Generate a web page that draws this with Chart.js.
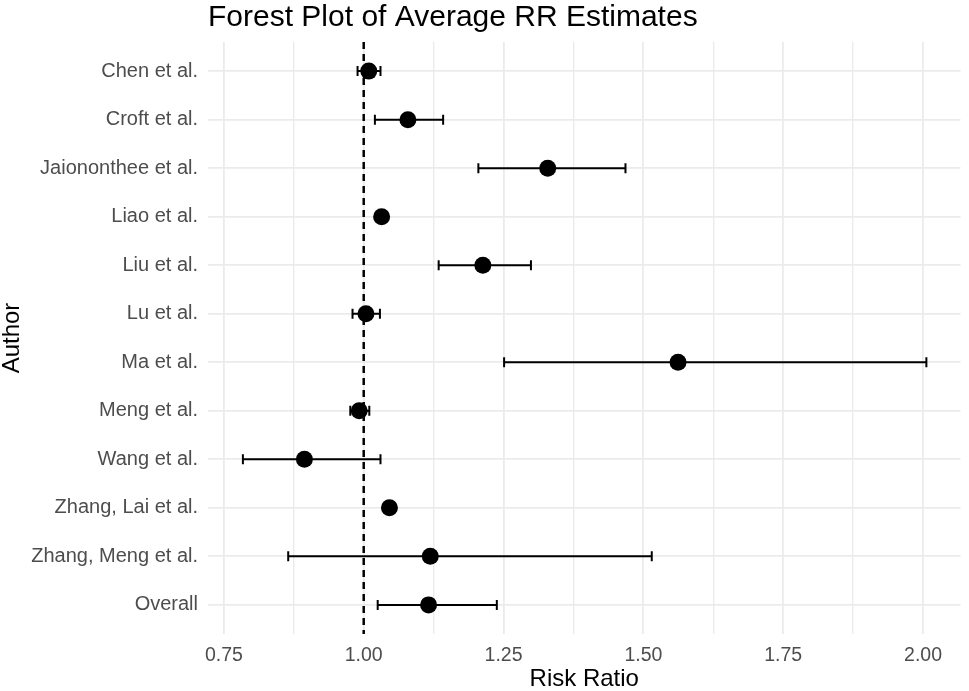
<!DOCTYPE html>
<html>
<head>
<meta charset="utf-8">
<script src="https://cdn.jsdelivr.net/npm/chart.js@4/dist/chart.umd.min.js"></script>
<style>
  html, body { margin: 0; padding: 0; background: #ffffff; }
  #wrap { width: 969px; height: 691px; position: relative; }
</style>
</head>
<body>
<div id="wrap"><canvas id="c"></canvas></div>
<script>
const authors = [
  "Chen et al.", "Croft et al.", "Jaiononthee et al.", "Liao et al.", "Liu et al.",
  "Lu et al.", "Ma et al.", "Meng et al.", "Wang et al.", "Zhang, Lai et al.",
  "Zhang, Meng et al.", "Overall"
];
const rr    = [1.009, 1.079, 1.329, 1.032, 1.213, 1.004, 1.562, 0.992, 0.894, 1.046, 1.119, 1.116];
const lower = [0.989, 1.020, 1.205, 1.022, 1.134, 0.980, 1.251, 0.976, 0.784, 1.036, 0.865, 1.025];
const upper = [1.030, 1.142, 1.468, 1.042, 1.299, 1.029, 2.006, 1.010, 1.030, 1.056, 1.515, 1.238];
const xMajorTicks = [0.75, 1.00, 1.25, 1.50, 1.75, 2.00];
const xMinorTicks = [0.875, 1.125, 1.375, 1.625, 1.875];
const refValue = 1.0;

const GRID = '#ebebeb';
const FONT = 'Liberation Sans, Arial, Helvetica, sans-serif';

const errorSets = authors.map((a, i) => ({
  type: 'line',
  data: [{x: lower[i], y: i}, {x: upper[i], y: i}],
  borderColor: '#000',
  borderWidth: 2,
  pointStyle: 'line',
  rotation: 90,
  pointRadius: 5,
  pointBorderWidth: 2,
  pointBorderColor: '#000',
  order: 2
}));

const datasets = [
  {
    type: 'scatter',
    data: authors.map((a, i) => ({x: rr[i], y: i})),
    backgroundColor: '#000',
    borderColor: '#000',
    pointRadius: 8.5,
    pointBorderWidth: 0,
    order: 1
  },
  ...errorSets,
  {
    type: 'line',
    data: [{x: refValue, y: -0.6}, {x: refValue, y: authors.length - 0.4}],
    borderColor: '#000',
    borderWidth: 2.5,
    borderDash: [7, 5],
    pointRadius: 0,
    order: 3
  }
];

new Chart(document.getElementById('c'), {
  type: 'scatter',
  data: { datasets },
  options: {
    responsive: true,
    maintainAspectRatio: false,
    animation: false,
    layout: { padding: { left: 0, right: 2, top: 0, bottom: 0 } },
    plugins: {
      legend: { display: false },
      tooltip: { enabled: false },
      title: {
        display: true,
        text: 'Forest Plot of Average RR Estimates',
        align: 'start',
        fullSize: false,
        color: '#000',
        font: { family: FONT, size: 30, weight: 'normal', lineHeight: 1.2 },
        padding: { top: 0, bottom: 6 }
      }
    },
    scales: {
      x: {
        type: 'linear',
        min: 0.7216,
        max: 2.067,
        border: { display: false },
        grid: {
          color: GRID,
          lineWidth: ctx => (ctx.tick && ctx.tick.major) ? 1.8 : 1.4,
          drawTicks: false
        },
        afterBuildTicks: s => {
          s.ticks = [
            ...xMajorTicks.map(v => ({value: v, major: true})),
            ...xMinorTicks.map(v => ({value: v, major: false}))
          ].sort((a, b) => a.value - b.value);
        },
        ticks: {
          color: '#4d4d4d',
          font: { family: FONT, size: 19.5 },
          padding: 10,
          maxRotation: 0,
          autoSkip: false,
          major: { enabled: false },
          callback: function(v) {
            return xMajorTicks.includes(v) ? v.toFixed(2) : '';
          }
        },
        title: {
          display: true,
          text: 'Risk Ratio',
          color: '#000',
          font: { family: FONT, size: 24, lineHeight: 1 },
          padding: { top: 0, bottom: 0 }
        },
        afterFit: s => { s.height = 57; }
      },
      y: {
        type: 'linear',
        reverse: true,
        min: -0.6,
        max: authors.length - 0.4,
        border: { display: false },
        grid: { color: GRID, lineWidth: 1.8, drawTicks: false },
        afterBuildTicks: s => {
          s.ticks = authors.map((a, i) => ({value: i}));
        },
        ticks: {
          color: '#4d4d4d',
          font: { family: FONT, size: 20 },
          padding: 10,
          autoSkip: false,
          callback: v => authors[v] !== undefined ? authors[v] : ''
        },
        title: {
          display: true,
          text: 'Author',
          color: '#000',
          font: { family: FONT, size: 24, lineHeight: 1 },
          padding: { top: 0, bottom: 0 }
        },
        afterFit: s => { s.width = 208; }
      }
    }
  }
});
</script>
</body>
</html>
